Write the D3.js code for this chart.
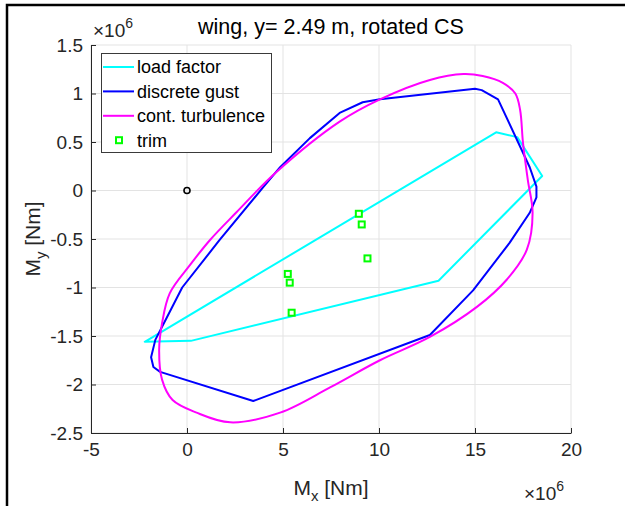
<!DOCTYPE html>
<html>
<head>
<meta charset="utf-8">
<script src="https://cdn.jsdelivr.net/npm/d3@7"></script>
<style>
  html, body { margin: 0; padding: 0; background: #fff; }
  svg { display: block; font-family: "Liberation Sans", Arial, sans-serif; }
</style>
</head>
<body>
<svg id="chart" width="625" height="506"></svg>
<script>
// values in units of 1e6 Nm
const xTicks = [-5, 0, 5, 10, 15, 20];
const yTicks = [-2.5, -2, -1.5, -1, -0.5, 0, 0.5, 1, 1.5];

const loadFactor = [
  [-2.2, -1.56], [0.2, -1.55], [13.1, -0.93], [18.5, 0.15], [17.2, 0.55], [16.1, 0.6]
];

const discreteGust = [
  [10.05, 0.94], [15.0, 1.05], [15.35, 1.035], [16.2, 0.94], [17.85, 0.24], [18.2, 0.04],
  [18.2, -0.07], [17.85, -0.23], [16.8, -0.54], [14.9, -1.03], [12.65, -1.49], [3.45, -2.17],
  [-1.4, -1.87], [-1.75, -1.82], [-1.87, -1.72], [-1.65, -1.54], [-1.05, -1.31], [-0.25, -1.0],
  [1.7, -0.51], [3.95, 0.03], [4.85, 0.24], [6.4, 0.54], [7.95, 0.8], [9.15, 0.91]
];

const contTurbulence = [
  [10.05, 0.94], [12.65, 1.14], [14.4, 1.2], [15.4, 1.18], [16.45, 1.11], [17.1, 1.0],
  [17.35, 0.83], [17.5, 0.49], [17.75, 0.11], [18.0, -0.23], [17.7, -0.61], [16.65, -0.92],
  [15.1, -1.2], [12.65, -1.51], [10.05, -1.75], [7.45, -2.03], [4.85, -2.29], [2.25, -2.39],
  [0.5, -2.29], [-0.75, -2.16], [-1.3, -1.95], [-1.45, -1.64], [-1.3, -1.37], [-0.9, -1.06],
  [0.15, -0.77], [1.2, -0.51], [2.55, -0.23], [4.6, 0.18], [7.95, 0.71]
];

const trim = [
  [8.95, -0.24], [9.1, -0.35], [9.4, -0.7], [5.25, -0.86], [5.35, -0.95], [5.45, -1.26]
];

const origin = [[0, 0]];

const legendItems = [
  { label: 'load factor', color: '#00ffff', type: 'line' },
  { label: 'discrete gust', color: '#0000ff', type: 'line' },
  { label: 'cont. turbulence', color: '#ff00ff', type: 'line' },
  { label: 'trim', color: '#00ff00', type: 'marker' }
];

const svg = d3.select('#chart');
const plot = { left: 91, right: 571, top: 45, bottom: 433 };

const x = d3.scaleLinear().domain([-5, 20]).range([plot.left, plot.right]);
const y = d3.scaleLinear().domain([-2.5, 1.5]).range([plot.bottom, plot.top]);

// figure frame (top and left edge)
svg.append('path')
  .attr('d', `M7,506 V5 H625`)
  .attr('fill', 'none')
  .attr('stroke', '#000')
  .attr('stroke-width', 2.5);

// grid
const grid = svg.append('g').attr('stroke', '#e3e3e3').attr('stroke-width', 1);
grid.selectAll('.gx').data(xTicks).join('line')
  .attr('x1', d => x(d)).attr('x2', d => x(d))
  .attr('y1', plot.top).attr('y2', plot.bottom);
grid.selectAll('.gy').data(yTicks).join('line')
  .attr('x1', plot.left).attr('x2', plot.right)
  .attr('y1', d => y(d)).attr('y2', d => y(d));

// axes
const fmt = d => String(d);
const xAxis = svg.append('g')
  .attr('transform', `translate(0,${plot.bottom})`)
  .call(d3.axisBottom(x).tickValues(xTicks).tickFormat(fmt).tickSizeInner(-5).tickSizeOuter(0).tickPadding(10));
const yAxis = svg.append('g')
  .attr('transform', `translate(${plot.left},0)`)
  .call(d3.axisLeft(y).tickValues(yTicks).tickFormat(fmt).tickSizeInner(-5).tickSizeOuter(0).tickPadding(8));

[xAxis, yAxis].forEach(g => {
  g.select('.domain').attr('stroke', '#262626');
  g.selectAll('.tick line').attr('stroke', '#262626');
  g.selectAll('.tick text')
    .attr('fill', '#262626')
    .style('font-family', '"Liberation Sans", Arial, sans-serif')
    .style('font-size', '19px');
});

// curves
const closedLine = d3.line().x(d => x(d[0])).y(d => y(d[1])).curve(d3.curveLinearClosed);
const smoothLine = d3.line().x(d => x(d[0])).y(d => y(d[1])).curve(d3.curveCatmullRomClosed.alpha(0.5));

svg.append('path').datum(loadFactor)
  .attr('d', closedLine).attr('fill', 'none')
  .attr('stroke', '#00ffff').attr('stroke-width', 2).attr('stroke-linejoin', 'round');

svg.append('path').datum(discreteGust)
  .attr('d', closedLine).attr('fill', 'none')
  .attr('stroke', '#0000ff').attr('stroke-width', 2).attr('stroke-linejoin', 'round');

svg.append('path').datum(contTurbulence)
  .attr('d', smoothLine).attr('fill', 'none')
  .attr('stroke', '#ff00ff').attr('stroke-width', 2);

// trim points
svg.append('g').selectAll('rect').data(trim).join('rect')
  .attr('x', d => x(d[0]) - 3).attr('y', d => y(d[1]) - 3)
  .attr('width', 6).attr('height', 6)
  .attr('fill', '#fff').attr('stroke', '#00ff00').attr('stroke-width', 2);

// origin marker
svg.append('g').selectAll('circle').data(origin).join('circle')
  .attr('cx', d => x(d[0])).attr('cy', d => y(d[1])).attr('r', 3)
  .attr('fill', 'none').attr('stroke', '#000').attr('stroke-width', 1.6);

// legend
const legend = svg.append('g');
legend.append('rect')
  .attr('x', 101.5).attr('y', 53.5).attr('width', 170).attr('height', 99)
  .attr('fill', '#fff').attr('stroke', '#3a3a3a').attr('stroke-width', 1);
const rows = legend.selectAll('g.row').data(legendItems).join('g')
  .attr('transform', (d, i) => `translate(0,${67 + i * 24.4})`);
rows.filter(d => d.type === 'line').append('line')
  .attr('x1', 103).attr('x2', 134).attr('y1', 0).attr('y2', 0)
  .attr('stroke', d => d.color).attr('stroke-width', 2);
rows.filter(d => d.type === 'marker').append('rect')
  .attr('x', 116).attr('y', -3).attr('width', 6).attr('height', 6)
  .attr('fill', '#fff').attr('stroke', d => d.color).attr('stroke-width', 2);
rows.append('text')
  .attr('x', 137).attr('y', 0).attr('dy', '0.35em')
  .attr('fill', '#000').style('font-size', '18px')
  .text(d => d.label);

// title
svg.append('text')
  .attr('x', (plot.left + plot.right) / 2).attr('y', 34)
  .attr('text-anchor', 'middle').attr('fill', '#000')
  .style('font-size', '21.5px')
  .text('wing, y= 2.49 m, rotated CS');

// exponent labels
function exponent(xPos, yPos) {
  const t = svg.append('text').attr('x', xPos).attr('y', yPos)
    .attr('fill', '#262626').style('font-size', '19px');
  t.append('tspan').text('\u00d710');
  t.append('tspan').attr('dy', -9).style('font-size', '14px').text('6');
}
exponent(93, 37);
exponent(524, 500);

// axis labels
const xl = svg.append('text')
  .attr('x', (plot.left + plot.right) / 2).attr('y', 495)
  .attr('text-anchor', 'middle').attr('fill', '#262626')
  .style('font-size', '21px');
xl.append('tspan').text('M');
xl.append('tspan').attr('dy', 6).style('font-size', '15px').text('x');
xl.append('tspan').attr('dy', -6).text(' [Nm]');

const yl = svg.append('text')
  .attr('transform', `translate(40,${(plot.top + plot.bottom) / 2}) rotate(-90)`)
  .attr('text-anchor', 'middle').attr('fill', '#262626')
  .style('font-size', '21px');
yl.append('tspan').text('M');
yl.append('tspan').attr('dy', 6).style('font-size', '15px').text('y');
yl.append('tspan').attr('dy', -6).text(' [Nm]');
</script>
</body>
</html>
